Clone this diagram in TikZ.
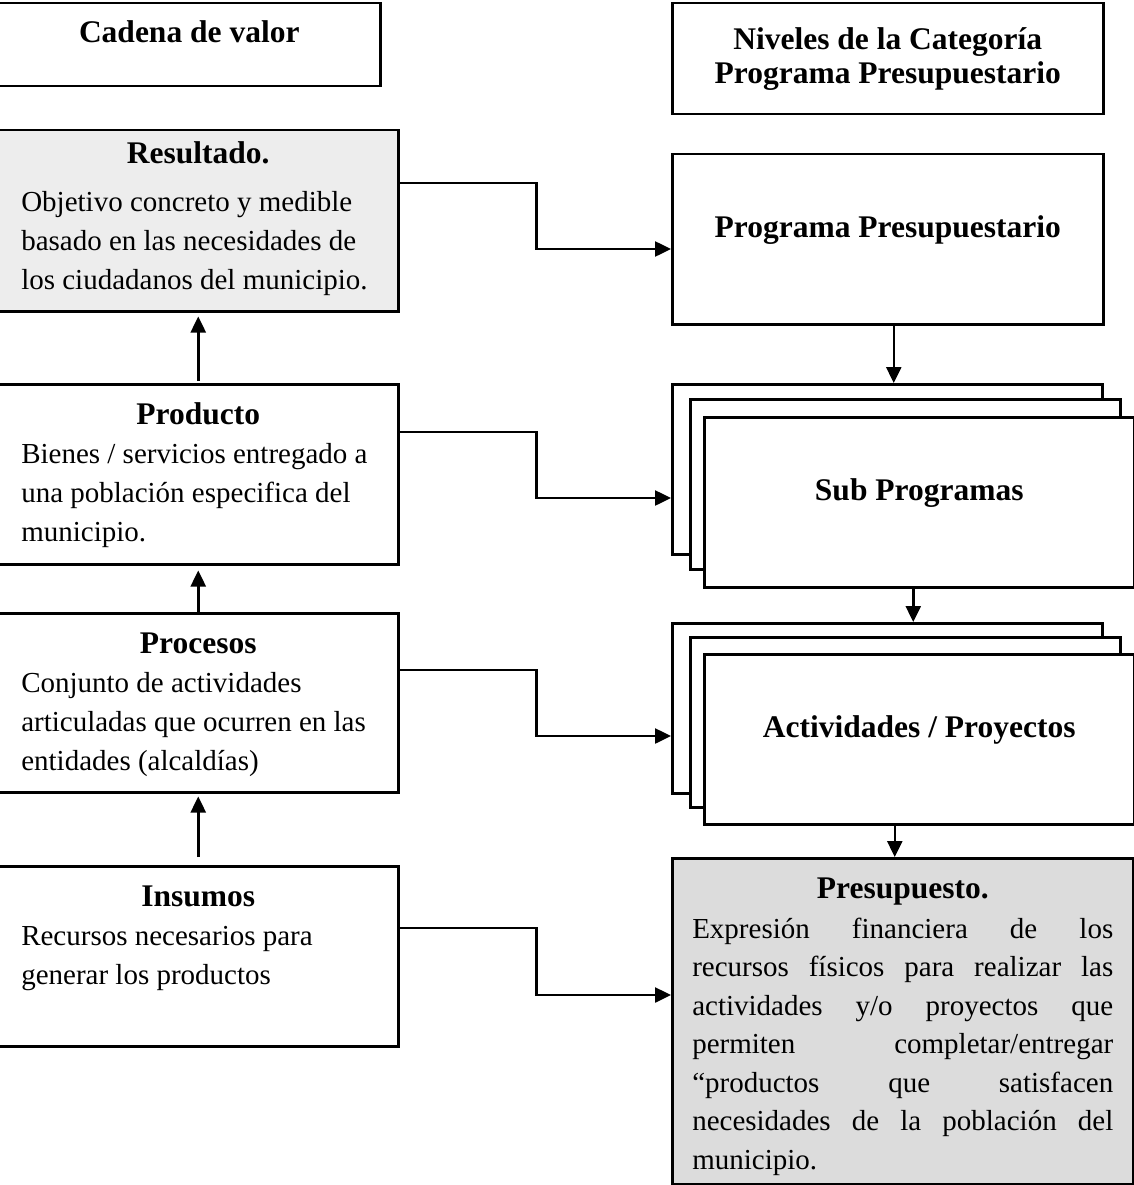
\documentclass[tikz,border=0pt]{standalone}
\usepackage{fontspec}
\setmainfont{Liberation Serif}
\usetikzlibrary{arrows.meta,positioning,calc}
\definecolor{GrisClaro}{HTML}{EDEDED}
\definecolor{GrisMedio}{HTML}{DCDCDC}
\newcommand{\bloque}[5]{\parbox[t][#1][t]{354pt}{\fontsize{29}{39}\selectfont
  {\centering\bfseries\fontsize{31.5}{39}\selectfont\rule{0pt}{#2}#4\par}\vspace{#3}
  \raggedright #5\par}}
\tikzset{
  encabezado/.style={draw, line width=2.5pt, fill=white, anchor=north west, font=\bfseries\fontsize{31.5}{34}\selectfont},
  cajaizq/.style={draw, line width=2.5pt, fill=white, anchor=north west, inner xsep=23pt, inner ysep=0pt, minimum width=400pt},
  nivel/.style={encabezado, minimum width=430pt, minimum height=170pt, text height=20pt, text depth=24pt},
  flecha/.style={-{Triangle[length=16pt,width=15pt]}, line width=2.5pt}
}

\begin{document}
\begin{tikzpicture}[x=1pt, y=-1pt]
  \useasboundingbox (0,0) rectangle (1133,1185);
  % encabezados
  \node[encabezado, minimum width=382pt, minimum height=83pt, text height=20pt, text depth=24pt] (cadena) at (-3,2) {Cadena de valor};
  \node[encabezado, minimum width=431pt, minimum height=111pt, align=center] (niveles) at (671,2) {Niveles de la Categoría\\Programa Presupuestario};

  % cadena de valor
  \node[cajaizq, fill=GrisClaro] (res) at (-3,129) {\bloque{181pt}{33pt}{9pt}{Resultado.}{Objetivo concreto y medible\\basado en las necesidades de\\los ciudadanos del municipio.}};
  \node[cajaizq] (prod) at (-3,383) {\bloque{180pt}{40pt}{0pt}{Producto}{Bienes / servicios entregado a\\una población especifica del\\municipio.}};
  \node[cajaizq] (proc) at (-3,612) {\bloque{179pt}{40pt}{0pt}{Procesos}{Conjunto de actividades\\articuladas que ocurren en las\\entidades (alcaldías)}};
  \node[cajaizq] (ins) at (-3,865) {\bloque{180pt}{40pt}{0pt}{Insumos}{Recursos necesarios para\\generar los productos}};

  % niveles
  \node[nivel, minimum width=431pt] (prog) at (671,153) {Programa Presupuestario};
  \node[nivel] (subA) at (671,383) {};
  \node[nivel] (subB) at (689,398) {};
  \node[nivel] (subC) at (703,416) {Sub Programas};
  \node[nivel] (actA) at (671,622) {};
  \node[nivel] (actB) at (689,636) {};
  \node[nivel] (actC) at (703,653) {Actividades / Proyectos};
  \node[cajaizq, fill=GrisMedio, inner xsep=20pt, minimum width=461pt] (pres) at (671,857) {\parbox[t][326pt][t]{421pt}{\fontsize{29}{38.5}\selectfont
    {\centering\bfseries\fontsize{31.5}{38.5}\selectfont\rule{0pt}{40pt}Presupuesto.\par}\vspace{1.5pt}
    \makebox[\linewidth][s]{Expresión financiera de los}\par
    \makebox[\linewidth][s]{recursos físicos para realizar las}\par
    \makebox[\linewidth][s]{actividades y/o proyectos que}\par
    \makebox[\linewidth][s]{permiten completar/entregar}\par
    \makebox[\linewidth][s]{“productos que satisfacen}\par
    \makebox[\linewidth][s]{necesidades de la población del}\par
    municipio.\par}};

  % flechas
  \draw[flecha, shorten <=2pt, shorten >=4pt] (prod) -- (res);
  \draw[flecha, shorten >=5pt] (proc) -- (prod);
  \draw[flecha, shorten <=8pt, shorten >=3pt] (ins) -- (proc);

  \draw[flecha] ($(res.north east)+(0,54)$) -- ++(137,0) |- ($(prog.north west)+(0,96)$);
  \draw[flecha] ($(prod.north east)+(0,49)$) -- ++(137,0) |- ($(subA.north west)+(0,115)$);
  \draw[flecha] ($(proc.north east)+(0,58)$) -- ++(137,0) |- ($(actA.north west)+(0,114)$);
  \draw[flecha] ($(ins.north east)+(0,63)$) -- ++(137,0) |- ($(pres.north west)+(0,138)$);

  \draw[flecha] ([xshift=6pt]prog.south) -- ([xshift=6pt]prog.south |- subA.north);
  \draw[flecha] ([xshift=-6pt]subC.south) -- ([xshift=-6pt]subC.south |- actA.north);
  \draw[flecha] ([xshift=-8pt]pres.north |- actC.south) -- ([xshift=-8pt]pres.north);
\end{tikzpicture}
\end{document}
